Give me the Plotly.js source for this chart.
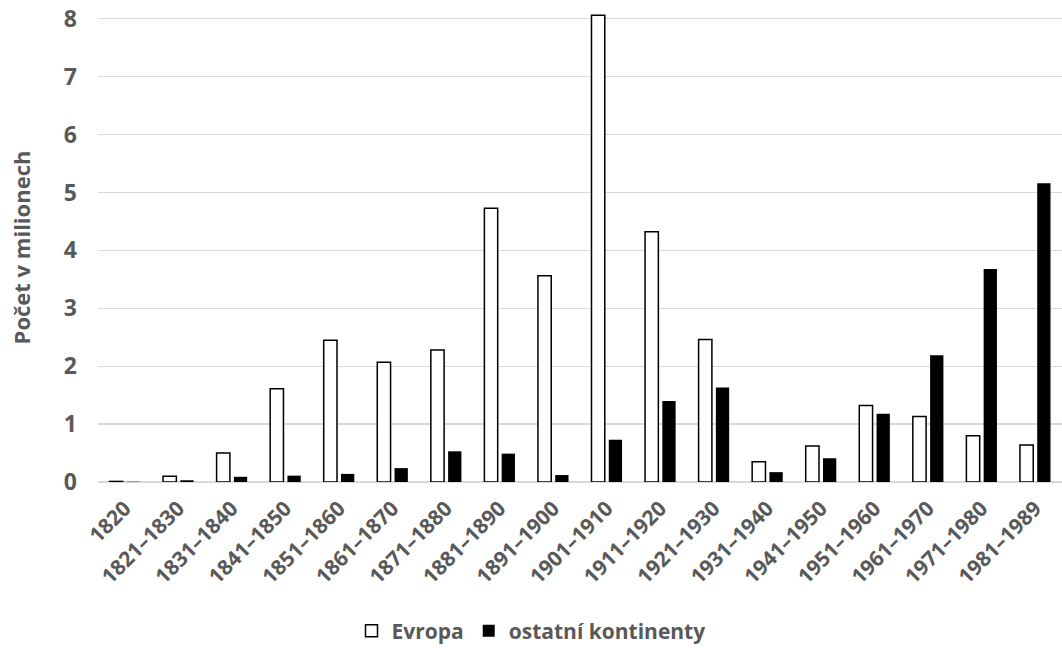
<!DOCTYPE html>
<html>
<head>
<meta charset="utf-8">
<script src="https://cdn.plot.ly/plotly-3.0.1.min.js"></script>
<style>html,body{margin:0;padding:0;background:#fff;}#chart{width:1062px;height:648px;}</style>
</head>
<body>
<div id="chart"></div>
<script>
const categories = ["1820","1821–1830","1831–1840","1841–1850","1851–1860","1861–1870","1871–1880","1881–1890","1891–1900","1901–1910","1911–1920","1921–1930","1931–1940","1941–1950","1951–1960","1961–1970","1971–1980","1981–1989"];
const evropa = [0.01,0.10,0.50,1.61,2.45,2.07,2.28,4.73,3.56,8.06,4.32,2.46,0.35,0.62,1.32,1.13,0.80,0.64];
const ostatni = [0.005,0.03,0.09,0.11,0.14,0.24,0.53,0.49,0.12,0.73,1.40,1.63,0.17,0.41,1.18,2.19,3.68,5.16];
const yTicks = [0,1,2,3,4,5,6,7,8];

const FONT = "'Open Sans', sans-serif";
const GRAY = "#595959";

const traces = [
  {type:"bar", name:"Evropa", x:categories, y:evropa,
   marker:{color:"#ffffff", line:{color:"#000000", width:1.5}}, cliponaxis:false},
  {type:"bar", name:"ostatní kontinenty", x:categories, y:ostatni,
   marker:{color:"#000000", line:{color:"#000000", width:0}}, cliponaxis:false}
];

const layout = {
  width:1062, height:648,
  margin:{l:98, r:0, t:13, b:166},
  paper_bgcolor:"#ffffff", plot_bgcolor:"#ffffff",
  barmode:"group", bargap:0.355, bargroupgap:0.23,
  font:{family:FONT, color:GRAY, size:18},
  showlegend:true,
  legend:{orientation:"h", xref:"container", yref:"container", x:0.5, xanchor:"center", y:0.026, yanchor:"middle",
          font:{family:FONT, size:21, color:GRAY, weight:"bold"}, itemwidth:30, traceorder:"normal"},
  xaxis:{type:"category", tickangle:-45, showgrid:false, showline:false, zeroline:false, ticks:"",
         tickfont:{family:FONT, size:21, color:GRAY, weight:"bold"}, ticklabelstandoff:9, fixedrange:true},
  yaxis:{range:[0,8.1], tickvals:yTicks, showgrid:true, gridcolor:"#d9d9d9", gridwidth:1.3,
         zeroline:true, zerolinecolor:"#d9d9d9", zerolinewidth:1.3, showline:false, ticks:"",
         tickfont:{family:FONT, size:23, color:GRAY, weight:"bold"}, ticklabelstandoff:20,
         title:{text:"Počet v milionech", font:{family:FONT, size:22, color:GRAY, weight:"bold"}, standoff:27},
         fixedrange:true}
};

Plotly.newPlot("chart", traces, layout, {displayModeBar:false, staticPlot:true});
</script>
</body>
</html>
